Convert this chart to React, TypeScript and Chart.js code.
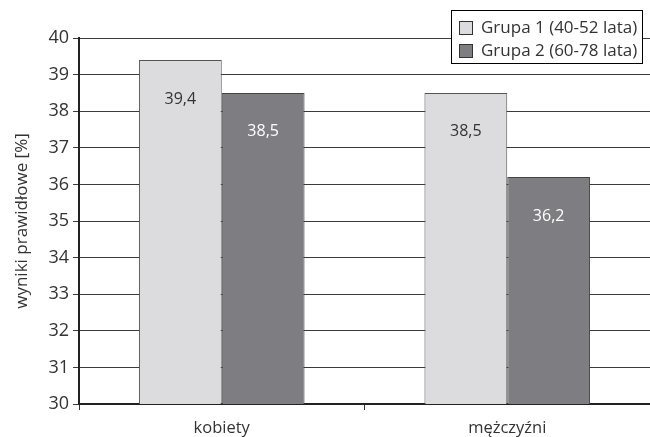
import React, { useEffect, useRef } from "react";
import { Chart, registerables } from "chart.js";

Chart.register(...registerables);

const categories = ["kobiety", "mężczyźni"];
const group1Label = "Grupa 1 (40-52 lata)";
const group2Label = "Grupa 2 (60-78 lata)";
const group1Values = [39.4, 38.5];
const group2Values = [38.5, 36.2];
const yTitle = "wyniki prawidłowe [%]";

const LIGHT = "#dcdcdf";
const DARK = "#7e7e82";
const FONT = "'Open Sans', 'DejaVu Sans', sans-serif";

const labelsPlugin = {
  id: "barLabels",
  afterDatasetsDraw(chart: any) {
    const ctx = chart.ctx;
    ctx.save();
    ctx.font = `16px ${FONT}`;
    ctx.textAlign = "center";
    ctx.textBaseline = "middle";
    chart.data.datasets.forEach((ds: any, di: number) => {
      const meta = chart.getDatasetMeta(di);
      meta.data.forEach((bar: any, i: number) => {
        const v = ds.data[i];
        ctx.fillStyle = di === 0 ? "#333333" : "#ffffff";
        ctx.fillText(String(v).replace(".", ","), bar.x, bar.y + 39);
      });
    });
    ctx.restore();
  },
};

const legendPlugin = {
  id: "boxLegend",
  afterDraw(chart: any) {
    const ctx = chart.ctx;
    ctx.save();
    const x = 451.5, y = 10.5, w = 191, h = 53;
    ctx.fillStyle = "#ffffff";
    ctx.fillRect(x, y, w, h);
    ctx.strokeStyle = "#000000";
    ctx.lineWidth = 1;
    ctx.strokeRect(x, y, w, h);
    const items = [
      { label: group1Label, color: LIGHT, cy: 28 },
      { label: group2Label, color: DARK, cy: 51 },
    ];
    ctx.font = `17px ${FONT}`;
    ctx.textBaseline = "middle";
    ctx.textAlign = "left";
    items.forEach((it) => {
      ctx.fillStyle = it.color;
      ctx.fillRect(459.5, it.cy - 7 + 0.5, 13, 13);
      ctx.strokeStyle = "#333";
      ctx.strokeRect(459.5, it.cy - 7 + 0.5, 13, 13);
      ctx.fillStyle = "#333333";
      ctx.fillText(it.label, 481, it.cy);
    });
    ctx.restore();
  },
};

export default function App() {
  const ref = useRef<HTMLCanvasElement>(null);
  useEffect(() => {
    document.body.style.margin = "0";
    const chart = new Chart(ref.current!, {
      type: "bar",
      data: {
        labels: categories,
        datasets: [
          {
            label: group1Label,
            data: group1Values,
            backgroundColor: LIGHT,
            borderColor: "#555555",
            borderWidth: 1,
            categoryPercentage: 0.58,
            barPercentage: 1,
          },
          {
            label: group2Label,
            data: group2Values,
            backgroundColor: DARK,
            borderColor: "#444444",
            borderWidth: 1,
            categoryPercentage: 0.58,
            barPercentage: 1,
          },
        ],
      },
      options: {
        responsive: false,
        animation: false,
        layout: { padding: { top: 38, left: 0, right: 0, bottom: 0 } },
        plugins: {
          legend: { display: false },
          tooltip: { enabled: false },
        },
        scales: {
          x: {
            offset: true,
            grid: {
              offset: true,
              drawOnChartArea: false,
              drawTicks: true,
              tickLength: 6,
              color: "#333333",
            },
            border: { color: "#222222", width: 2 },
            ticks: {
              color: "#333333",
              font: { family: FONT, size: 16.5 },
              padding: 8,
            },
            afterFit(scale: any) {
              scale.height = 33;
            },
          },
          y: {
            min: 30,
            max: 40,
            ticks: {
              stepSize: 1,
              color: "#333333",
              font: { family: FONT, size: 18 },
              padding: 4,
            },
            grid: {
              color: "#3a3a3a",
              lineWidth: 1,
              tickLength: 6,
            },
            border: { color: "#222222", width: 2 },
            title: {
              display: true,
              text: yTitle,
              color: "#333333",
              font: { family: FONT, size: 17 },
              padding: { top: 12, bottom: 0 },
            },
            afterFit(scale: any) {
              scale.width = 79;
            },
          },
        },
      },
      plugins: [labelsPlugin, legendPlugin],
    });
    return () => chart.destroy();
  }, []);
  return (
    <div style={{ width: 650, height: 437, background: "#fff" }}>
      <canvas ref={ref} width={650} height={437} />
    </div>
  );
}
